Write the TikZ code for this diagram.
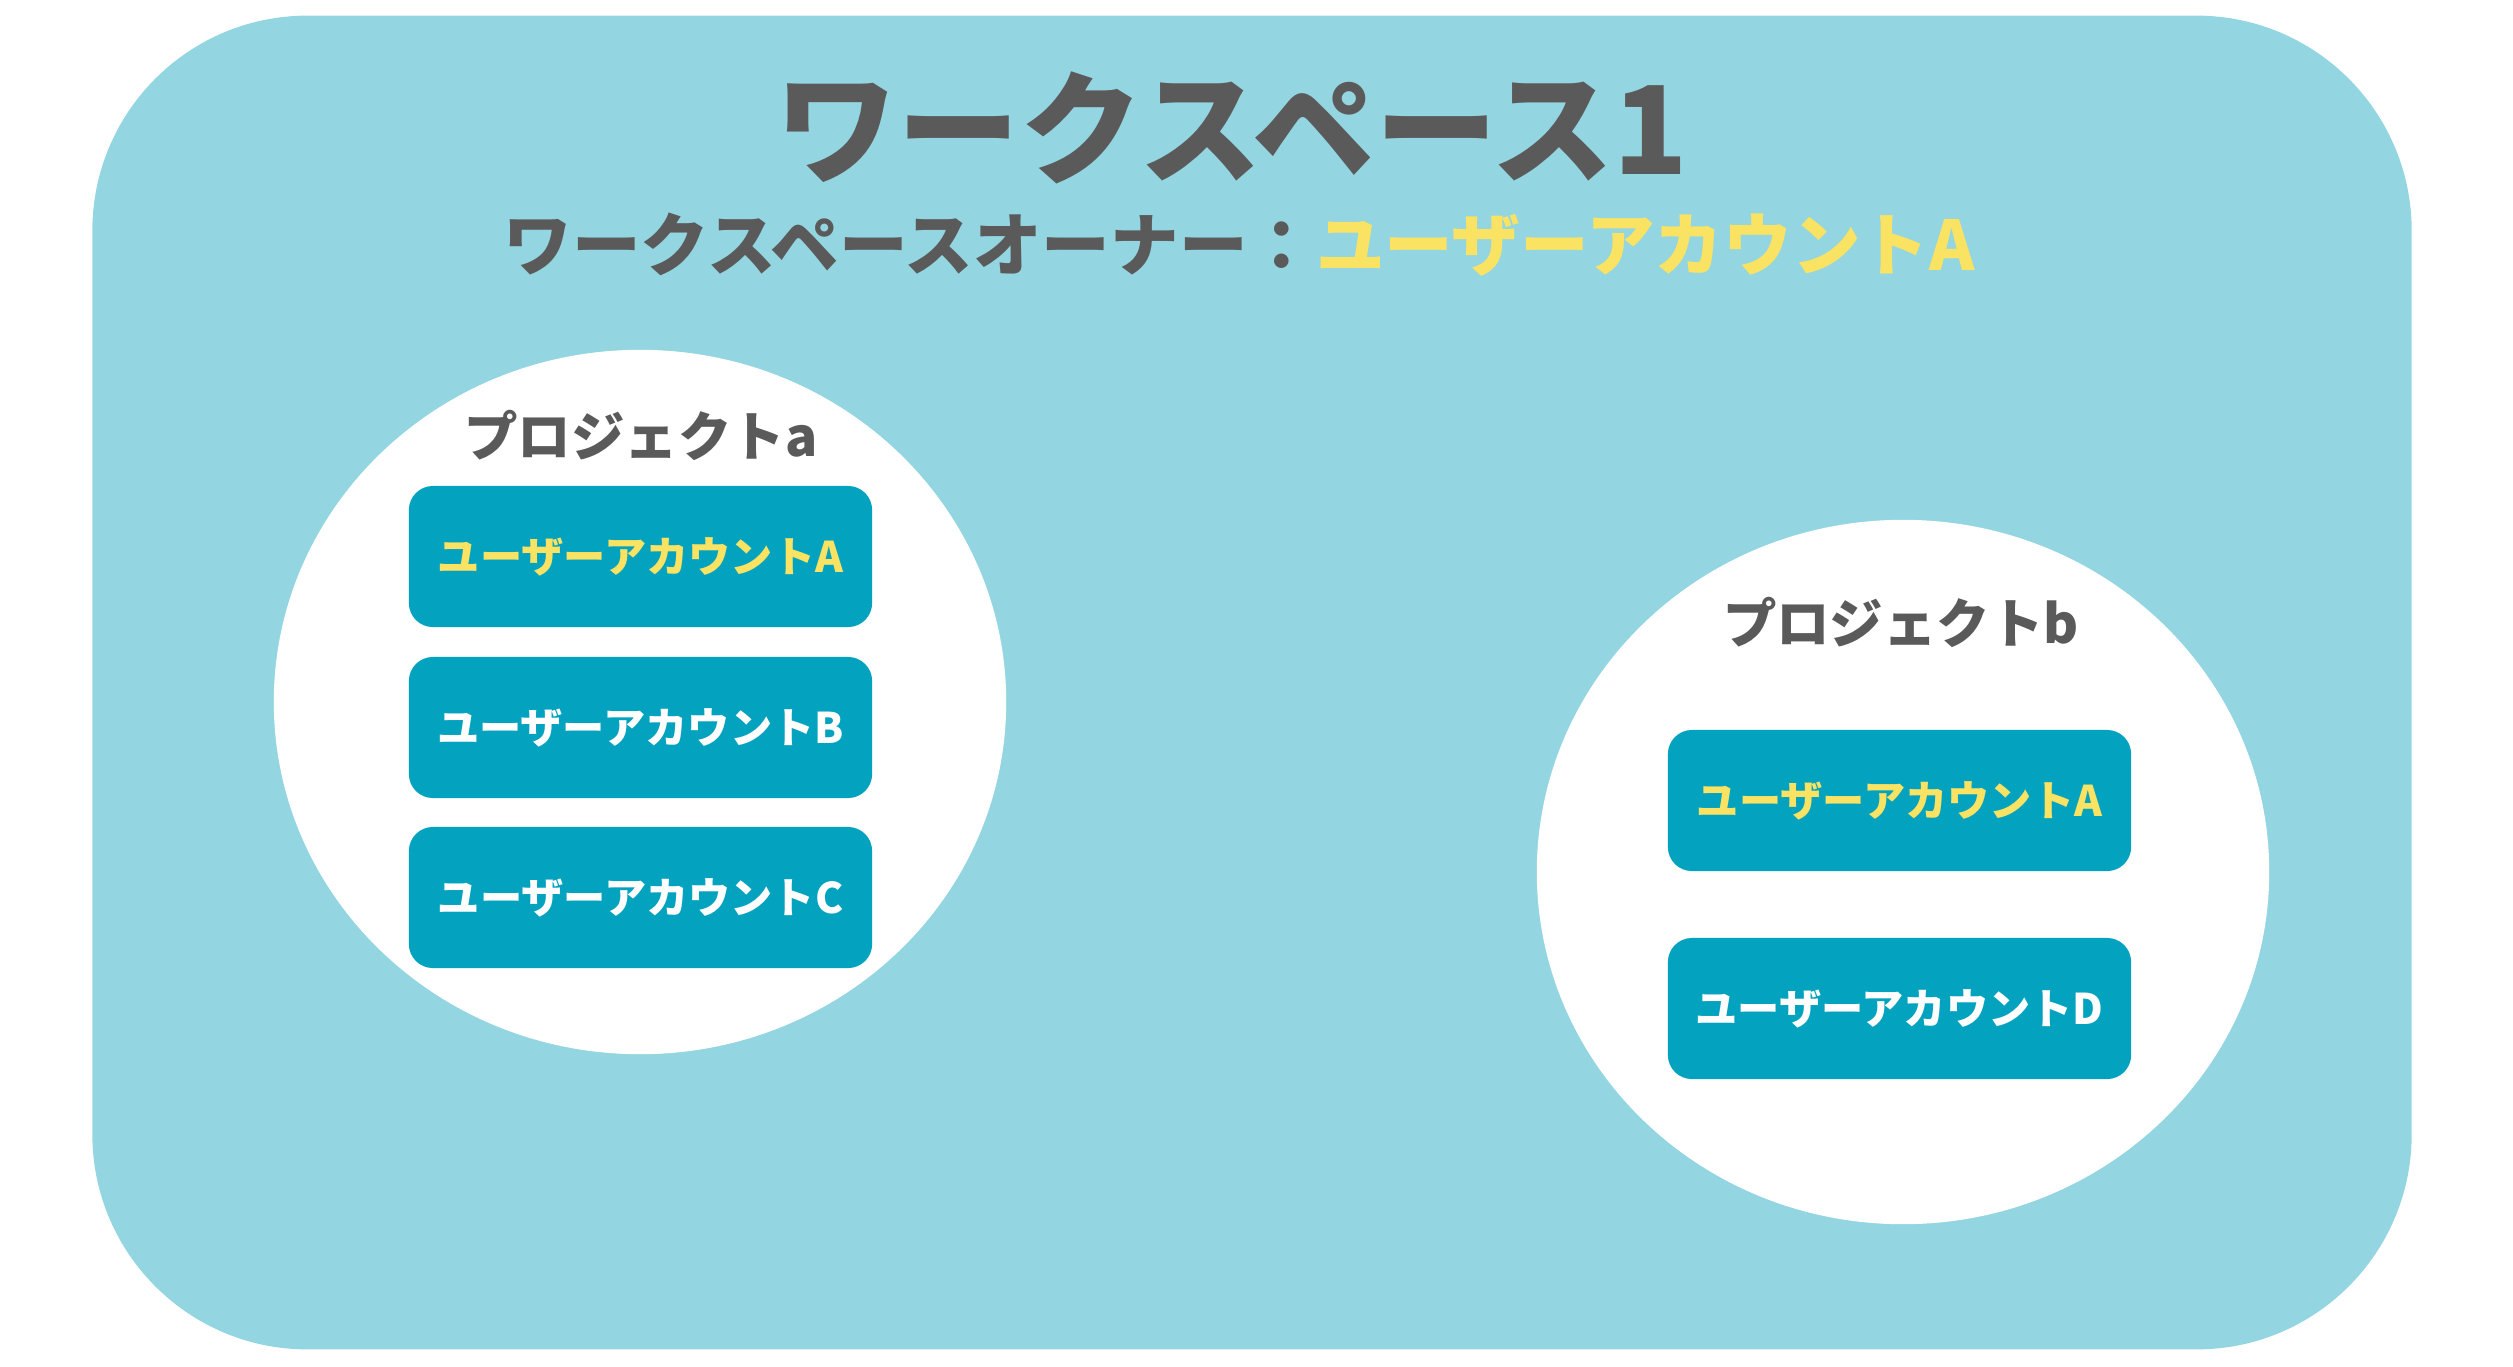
\documentclass[tikz,border=0pt]{standalone}
\usepackage{fontspec}
\setmainfont{Noto Sans CJK JP}
\usetikzlibrary{shapes.geometric}
\definecolor{wsbg}{HTML}{93D5E0}
\definecolor{boxbg}{HTML}{03A2BF}
\definecolor{txtgray}{HTML}{5A5A5A}
\definecolor{accyellow}{HTML}{FAE363}
\tikzset{
  wsbox/.style={fill=wsbg, draw=none, rounded corners=2.15cm, minimum width=23.18cm, minimum height=13.33cm, inner sep=0pt},
  projoval/.style={ellipse, fill=white, draw=none, minimum width=7.32cm, minimum height=7.04cm, inner sep=0pt},
  userbox/.style={fill=boxbg, draw=none, rounded corners=0.24cm, minimum width=4.63cm, minimum height=1.41cm, inner sep=0pt, font=\fontsize{12}{14}\selectfont\bfseries, text=white},
  owner/.style={text=accyellow},
  projlabel/.style={inner sep=0pt, font=\fontsize{15.2}{18}\selectfont\bfseries, text=txtgray},
}
\begin{document}
\begin{tikzpicture}[x=0.01cm, y=-0.01cm]
\useasboundingbox (0,0) rectangle (2513,1366);
\node[wsbox] (ws) at (1252,682.5) {};
\node[inner sep=0pt, font=\fontsize{34.8}{40}\selectfont\bfseries, text=txtgray] (title) at (1232,128) {ワークスペース1};
\node[inner sep=0pt, font=\fontsize{19.5}{23}\selectfont\bfseries, text=txtgray] (subtitle) at (1239,245) {ワークスペースオーナー：{\color{accyellow}ユーザーアカウントA}};
\node[projoval] (pa) at (640,702) {};
\node[projoval] (pb) at (1903,872) {};
\node[projlabel] (la) at (641,435) {プロジェクトa};
\node[projlabel] (lb) at (1901,622) {プロジェクトb};
\node[userbox, owner] (a1) at (640.5,556.5) {ユーザーアカウントA};
\node[userbox] (a2) at (640.5,727.5) {ユーザーアカウントB};
\node[userbox] (a3) at (640.5,897.5) {ユーザーアカウントC};
\node[userbox, owner] (b1) at (1899.5,800.5) {ユーザーアカウントA};
\node[userbox] (b2) at (1899.5,1008.5) {ユーザーアカウントD};
\end{tikzpicture}
\end{document}
